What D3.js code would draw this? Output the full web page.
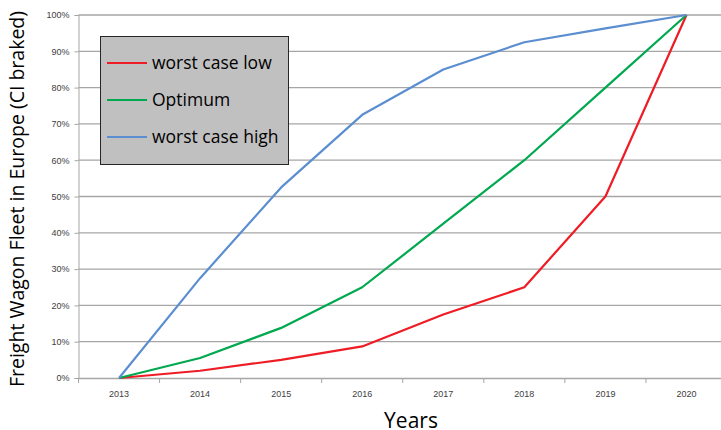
<!DOCTYPE html>
<html>
<head>
<meta charset="utf-8">
<script src="https://cdn.jsdelivr.net/npm/d3@7"></script>
<style>
	body { margin: 0; background: #fff; }
	svg { display: block; font-family: "Open Sans", "Liberation Sans", sans-serif; }
</style>
</head>
<body>
<svg id="chart" width="721" height="430"></svg>
<script>
const years = ["2013", "2014", "2015", "2016", "2017", "2018", "2019", "2020"];
const worstLow = [0, 0.02, 0.05, 0.087, 0.175, 0.25, 0.50, 1.0];
const optimum = [0, 0.055, 0.138, 0.25, 0.425, 0.60, 0.80, 1.0];
const worstHigh = [0, 0.275, 0.525, 0.725, 0.85, 0.925, 0.963, 1.0];
const yTicks = [0, 0.1, 0.2, 0.3, 0.4, 0.5, 0.6, 0.7, 0.8, 0.9, 1.0];

const series = [
	{ name: "worst case low", values: worstLow, color: "#ee1c25" },
	{ name: "Optimum", values: optimum, color: "#00a84f" },
	{ name: "worst case high", values: worstHigh, color: "#5b8ed0" }
];

const svg = d3.select("#chart");
const plotLeft = 78.5, plotRight = 727, plotTop = 15, plotBottom = 378;

const x = d3.scaleBand().domain(years).range([plotLeft, plotRight]);
const y = d3.scaleLinear().domain([0, 1]).range([plotBottom, plotTop]);

// grid lines
svg.append("g")
	.selectAll("line")
	.data(yTicks.slice(1))
	.enter()
	.append("line")
	.attr("x1", plotLeft)
	.attr("x2", 721)
	.attr("y1", d => y(d))
	.attr("y2", d => y(d))
	.attr("stroke", "#a6a6a6")
	.attr("stroke-width", 1.3);

// y axis
const yAxis = svg.append("g")
	.attr("transform", "translate(" + plotLeft + ",0)")
	.call(d3.axisLeft(y).tickValues(yTicks).tickFormat(d3.format(".0%")).tickSize(4).tickPadding(5));
yAxis.select(".domain").attr("stroke", "#a6a6a6");
yAxis.selectAll(".tick line").attr("stroke", "#a6a6a6");
yAxis.selectAll("text").attr("font-size", 9).attr("fill", "#404040");

// x axis
const xAxis = svg.append("g")
	.attr("transform", "translate(0," + plotBottom + ")")
	.call(d3.axisBottom(x).tickSize(0).tickPadding(13));
xAxis.select(".domain").attr("stroke", "#a6a6a6").attr("stroke-width", 1.3);
xAxis.selectAll("text").attr("font-size", 9).attr("fill", "#404040");
svg.append("g")
	.selectAll("line")
	.data(years)
	.enter()
	.append("line")
	.attr("x1", d => x(d))
	.attr("x2", d => x(d))
	.attr("y1", plotBottom)
	.attr("y2", plotBottom + 5)
	.attr("stroke", "#a6a6a6");

// lines
const line = d3.line()
	.x((d, i) => x(years[i]) + x.bandwidth() / 2)
	.y(d => y(d));

svg.append("g")
	.selectAll("path")
	.data(series)
	.enter()
	.append("path")
	.attr("d", d => line(d.values))
	.attr("fill", "none")
	.attr("stroke", d => d.color)
	.attr("stroke-width", 2.2)
	.attr("stroke-linejoin", "round");

// legend
const legend = svg.append("g").attr("transform", "translate(100,36)");
legend.append("rect")
	.attr("x", 0.5)
	.attr("y", 0.5)
	.attr("width", 188)
	.attr("height", 128)
	.attr("fill", "#c0c0c0")
	.attr("stroke", "#262626")
	.attr("stroke-width", 1);

const items = legend.selectAll(".item")
	.data(series)
	.enter()
	.append("g")
	.attr("transform", (d, i) => "translate(0," + (27 + i * 37) + ")");
items.append("line")
	.attr("x1", 7)
	.attr("x2", 47)
	.attr("stroke", d => d.color)
	.attr("stroke-width", 2.2);
items.append("text")
	.attr("x", 52)
	.attr("dy", "0.36em")
	.attr("font-size", 17.5)
	.attr("fill", "#000")
	.text(d => d.name);

// axis titles
svg.append("text")
	.attr("transform", "translate(24,199) rotate(-90)")
	.attr("text-anchor", "middle")
	.attr("font-size", 19.5)
	.attr("fill", "#000")
	.text("Freight Wagon Fleet in Europe (CI braked)");

svg.append("text")
	.attr("x", 411)
	.attr("y", 428)
	.attr("text-anchor", "middle")
	.attr("font-size", 21)
	.attr("fill", "#000")
	.text("Years");
</script>
</body>
</html>
